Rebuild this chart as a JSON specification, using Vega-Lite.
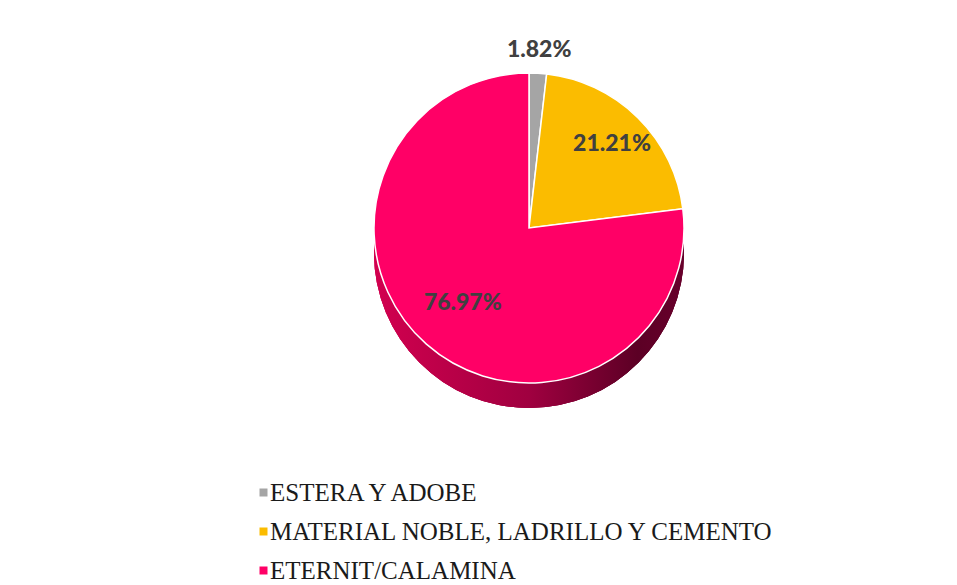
{
  "$schema": "https://vega.github.io/schema/vega-lite/v6.json",
  "width": 838,
  "height": 416,
  "autosize": "none",
  "padding": {"left": 110, "top": 20, "right": 9, "bottom": 149},
  "background": "white",
  "config": {"view": {"stroke": null}},
  "data": {
    "values": [
      {"cat": "ESTERA Y ADOBE", "pct": 1.82, "label": "1.82%", "orden": 1},
      {"cat": "MATERIAL NOBLE, LADRILLO Y CEMENTO", "pct": 21.21, "label": "21.21%", "orden": 2},
      {"cat": "ETERNIT/CALAMINA", "pct": 76.97, "label": "76.97%", "orden": 3}
    ]
  },
  "layer": [
    {
      "mark": {
        "type": "arc",
        "outerRadius": 155,
        "yOffset": 25,
        "color": {
          "gradient": "linear",
          "x1": 0, "y1": 0, "x2": 1, "y2": 0,
          "stops": [
            {"offset": 0, "color": "#D2004F"},
            {"offset": 0.5, "color": "#A00040"},
            {"offset": 0.85, "color": "#5C0025"},
            {"offset": 1, "color": "#68002B"}
          ]
        }
      },
      "encoding": {}
    },
    {
      "mark": {"type": "arc", "outerRadius": 155, "stroke": "white", "strokeWidth": 1.5},
      "encoding": {
        "theta": {"field": "pct", "type": "quantitative", "stack": true},
        "order": {"field": "orden", "type": "quantitative"},
        "color": {
          "field": "cat",
          "type": "nominal",
          "sort": ["ESTERA Y ADOBE", "MATERIAL NOBLE, LADRILLO Y CEMENTO", "ETERNIT/CALAMINA"],
          "scale": {
            "domain": ["ESTERA Y ADOBE", "MATERIAL NOBLE, LADRILLO Y CEMENTO", "ETERNIT/CALAMINA"],
            "range": ["#A5A5A5", "#FBBC00", "#FF0066"]
          },
          "legend": {
            "title": null,
            "orient": "none",
            "legendX": 141,
            "legendY": 460,
            "symbolType": "square",
            "symbolSize": 64,
            "symbolStrokeWidth": 0,
            "labelFont": "Liberation Serif",
            "labelFontSize": 25,
            "labelColor": "#1a1a1a",
            "labelLimit": 700,
            "rowPadding": 13,
            "symbolOffset": 0,
            "labelOffset": -6
          }
        }
      }
    },
    {
      "mark": {
        "type": "text",
        "font": "Lato",
        "fontWeight": 900,
        "fontSize": 23,
        "color": "#404040",
        "radius": {"expr": "datum.orden == 1 ? 178 : (datum.orden == 2 ? 118 : 100)"}
      },
      "encoding": {
        "theta": {"field": "pct", "type": "quantitative", "stack": true},
        "order": {"field": "orden", "type": "quantitative"},
        "text": {"field": "label", "type": "nominal"}
      }
    }
  ]
}
